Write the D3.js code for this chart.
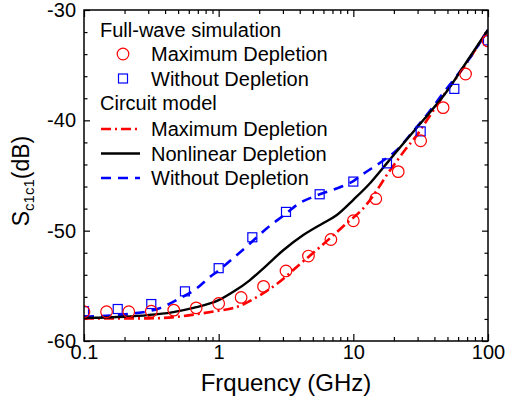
<!DOCTYPE html>
<html>
<head>
<meta charset="utf-8">
<script src="https://cdn.jsdelivr.net/npm/d3@7"></script>
<style>
  body { margin: 0; background: #fff; }
  svg text { font-family: "Liberation Sans", Arial, sans-serif; }
</style>
</head>
<body>
<div id="chart"></div>
<script>
// full-wave simulation points
const circFreq = [0.1, 0.147, 0.215, 0.316, 0.464, 0.681, 1, 1.468, 2.154, 3.162, 4.642, 6.813, 10, 14.68, 21.54, 31.62, 46.42, 68.13, 100]
const circVal = [-57.35, -57.35, -57.35, -57.3, -57.2, -57.0, -56.6, -56.05, -55.05, -53.65, -52.3, -50.8, -49.1, -47.1, -44.65, -41.85, -38.85, -35.8, -32.8]

const sqFreq = [0.1, 0.178, 0.316, 0.562, 1, 1.778, 3.162, 5.623, 10, 17.78, 31.62, 56.23, 100]
const sqVal = [-57.3, -57.1, -56.65, -55.5, -53.4, -50.6, -48.3, -46.7, -45.55, -43.9, -41.0, -37.15, -32.75]

// circuit model curves
const redFreq = [0.1, 0.3, 0.5, 0.75, 1, 1.3, 2, 2.76, 4, 5.7, 8.5, 12.6, 15.8, 18.3, 21, 24.5, 29, 36.5, 46.4, 66, 100]
const redVal = [-57.95, -57.95, -57.8, -57.5, -57.25, -57.0, -55.9, -54.75, -53.05, -51.45, -49.55, -47.6, -45.9, -44.7, -43.7, -42.6, -41.5, -39.7, -37.8, -35.2, -31.8]

const blackFreq = [0.1, 0.2, 0.3, 0.45, 0.65, 1, 1.3, 1.7, 2.2, 3, 4.25, 6, 7.5, 10, 13.3, 17.7, 23.5, 33, 50, 66, 100]
const blackVal = [-57.9, -57.8, -57.65, -57.4, -57.0, -56.3, -55.5, -54.5, -53.3, -51.8, -50.4, -49.3, -48.6, -47.2, -45.7, -43.9, -42.1, -40.0, -37.3, -35.1, -31.8]

const blueFreq = [0.1, 0.235, 0.36, 0.52, 0.675, 0.86, 1, 1.21, 1.61, 2.27, 3.0, 4.0, 5.2, 8.2, 10, 11.7, 16.2, 21, 28, 36.5, 46, 58.8, 70, 100]
const blueVal = [-57.8, -57.5, -57.05, -56.1, -55.3, -54.2, -53.6, -52.75, -51.45, -49.8, -48.67, -47.5, -46.86, -46.0, -45.5, -44.9, -43.75, -42.7, -40.95, -39.25, -37.6, -35.95, -34.7, -31.8]

const xMajor = [0.1, 1, 10, 100]
const yMajor = [-60, -50, -40, -30]

const W = 513, H = 397
const MARGIN = { TOP: 10, LEFT: 84, RIGHT: 25, BOTTOM: 56 }
const PW = W - MARGIN.LEFT - MARGIN.RIGHT
const PH = H - MARGIN.TOP - MARGIN.BOTTOM

const svg = d3.select("#chart").append("svg")
    .attr("width", W)
    .attr("height", H)

const g = svg.append("g")
    .attr("transform", `translate(${MARGIN.LEFT}, ${MARGIN.TOP})`)

const x = d3.scaleLog().domain([0.1, 100]).range([0, PW])
const y = d3.scaleLinear().domain([-60, -30]).range([PH, 0])

// minor ticks
const xMinor = []
xMajor.slice(0, -1).forEach(m => { for (let k = 2; k <= 9; k++) xMinor.push(m * k) })
const yMinor = d3.range(-58, -30, 2).filter(v => v % 10 !== 0)

g.append("defs").append("clipPath").attr("id", "clip")
  .append("rect").attr("width", PW).attr("height", PH)

function axisStyle(sel) {
    sel.select(".domain").remove()
    sel.selectAll("line").attr("stroke", "#000").attr("stroke-width", 1.2)
    sel.selectAll("text").attr("fill", "#000").attr("font-size", 20)
}

// bottom
g.append("g").attr("transform", `translate(0, ${PH})`)
    .call(d3.axisBottom(x).tickValues(xMajor).tickFormat(d3.format("~g")).tickSize(-7).tickPadding(4))
    .call(axisStyle)
g.append("g").attr("transform", `translate(0, ${PH})`)
    .call(d3.axisBottom(x).tickValues(xMinor).tickFormat("").tickSize(-4))
    .call(axisStyle)
// top
g.append("g")
    .call(d3.axisTop(x).tickValues(xMajor).tickFormat("").tickSize(-7))
    .call(axisStyle)
g.append("g")
    .call(d3.axisTop(x).tickValues(xMinor).tickFormat("").tickSize(-4))
    .call(axisStyle)
// left
g.append("g")
    .call(d3.axisLeft(y).tickValues(yMajor).tickFormat(d3.format("d")).tickSize(-6).tickPadding(8))
    .call(axisStyle)
g.append("g")
    .call(d3.axisLeft(y).tickValues(yMinor).tickFormat("").tickSize(-3.5))
    .call(axisStyle)
// right
g.append("g").attr("transform", `translate(${PW}, 0)`)
    .call(d3.axisRight(y).tickValues(yMajor).tickFormat("").tickSize(-6))
    .call(axisStyle)
g.append("g").attr("transform", `translate(${PW}, 0)`)
    .call(d3.axisRight(y).tickValues(yMinor).tickFormat("").tickSize(-3.5))
    .call(axisStyle)

// plain hyphen for negative labels
g.selectAll("text").each(function() {
    const t = d3.select(this)
    t.text(t.text().replace("\u2212", "-"))
})

const plot = g.append("g").attr("clip-path", "url(#clip)")

const line = d3.line()
    .x(d => x(d[0]))
    .y(d => y(d[1]))
    .curve(d3.curveMonotoneX)

const curves = [
    { f: redFreq, v: redVal, color: "#ff0000", dash: "10,4,2,4", width: 2.6 },
    { f: blueFreq, v: blueVal, color: "#0000ff", dash: "10,7", width: 2.6 },
    { f: blackFreq, v: blackVal, color: "#000", dash: null, width: 2.4 },
]

curves.forEach(c => {
    plot.append("path")
        .datum(d3.zip(c.f, c.v))
        .attr("d", line)
        .attr("fill", "none")
        .attr("stroke", c.color)
        .attr("stroke-width", c.width)
        .attr("stroke-dasharray", c.dash)
})

plot.selectAll(".sq")
    .data(d3.zip(sqFreq, sqVal))
    .enter().append("rect")
        .attr("x", d => x(d[0]) - 4.5)
        .attr("y", d => y(d[1]) - 4.5)
        .attr("width", 9)
        .attr("height", 9)
        .attr("fill", "none")
        .attr("stroke", "#0000ff")
        .attr("stroke-width", 1.2)

plot.selectAll(".circ")
    .data(d3.zip(circFreq, circVal))
    .enter().append("circle")
        .attr("cx", d => x(d[0]))
        .attr("cy", d => y(d[1]))
        .attr("r", 5.8)
        .attr("fill", "none")
        .attr("stroke", "#ff0000")
        .attr("stroke-width", 1.2)

// frame
g.append("rect")
    .attr("width", PW)
    .attr("height", PH)
    .attr("fill", "none")
    .attr("stroke", "#000")
    .attr("stroke-width", 1.5)

// legend
const leg = svg.append("g").attr("font-size", 20).attr("fill", "#000")
const rowY = [30, 54, 78.5, 103, 129, 153.5, 178]

leg.append("text").attr("x", 100).attr("y", rowY[0]).attr("dy", "0.35em").text("Full-wave simulation")
leg.append("circle").attr("cx", 123).attr("cy", rowY[1]).attr("r", 5.8)
    .attr("fill", "none").attr("stroke", "#ff0000").attr("stroke-width", 1.2)
leg.append("text").attr("x", 151).attr("y", rowY[1]).attr("dy", "0.35em").text("Maximum Depletion")
leg.append("rect").attr("x", 123 - 4.5).attr("y", rowY[2] - 4.5).attr("width", 9).attr("height", 9)
    .attr("fill", "none").attr("stroke", "#0000ff").attr("stroke-width", 1.2)
leg.append("text").attr("x", 151).attr("y", rowY[2]).attr("dy", "0.35em").text("Without Depletion")
leg.append("text").attr("x", 100).attr("y", rowY[3]).attr("dy", "0.35em").text("Circuit model")

const legLines = [
    { c: curves[0], label: "Maximum Depletion", row: 4 },
    { c: curves[2], label: "Nonlinear Depletion", row: 5 },
    { c: curves[1], label: "Without Depletion", row: 6 },
]
legLines.forEach(l => {
    leg.append("line")
        .attr("x1", 101).attr("x2", 140)
        .attr("y1", rowY[l.row]).attr("y2", rowY[l.row])
        .attr("stroke", l.c.color)
        .attr("stroke-width", l.c.width)
        .attr("stroke-dasharray", l.c.dash)
    leg.append("text").attr("x", 151).attr("y", rowY[l.row]).attr("dy", "0.35em").text(l.label)
})

// axis titles
svg.append("text")
    .attr("x", MARGIN.LEFT + PW / 2)
    .attr("y", 391)
    .attr("text-anchor", "middle")
    .attr("font-size", 24)
    .text("Frquency (GHz)")

const yt = svg.append("text")
    .attr("transform", "translate(29, 181) rotate(-90)")
    .attr("text-anchor", "middle")
    .attr("font-size", 23)
yt.append("tspan").text("S")
yt.append("tspan").attr("font-size", 15).attr("dy", 5).text("c1c1")
yt.append("tspan").attr("dy", -5).text("(dB)")
</script>
</body>
</html>
